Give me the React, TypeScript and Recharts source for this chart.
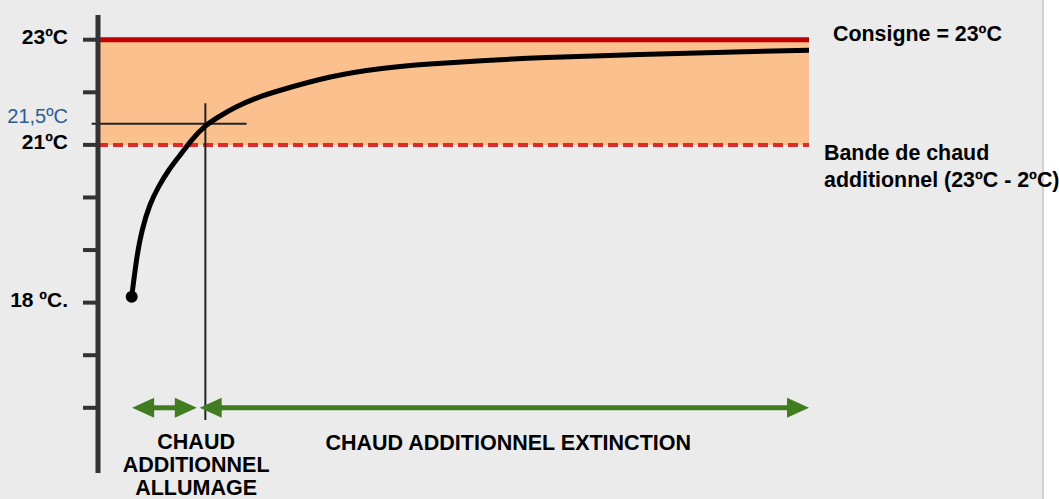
import { LineChart, Line, XAxis, YAxis, ReferenceArea, ReferenceLine, ReferenceDot } from 'recharts';

// position along the horizontal span (0-100) and temperature of the curve
const timeValues = [4.74, 5.44, 6.15, 7.31, 8.48, 9.89, 11.53, 13.18, 15.05, 16.92, 19.27, 22.55, 24.89, 32.63, 39.66, 46.69, 53.73, 62.17, 76.23, 90.3, 100];
const tempValues = [18.11, 18.87, 19.38, 19.89, 20.2, 20.52, 20.8, 21.1, 21.37, 21.53, 21.72, 21.91, 22.01, 22.31, 22.46, 22.54, 22.6, 22.66, 22.72, 22.77, 22.8];

const tickValues = [16, 17, 18, 19, 20, 21, 21.5, 22, 23];
const tickLabels: Record<string, string> = { '23': '23ºC', '21.5': '21,5ºC', '21': '21ºC', '18': '18 ºC.' };

const consigne = 23;
const bandeBasse = 21;
const croisementTemp = 21.4;
const croisementTemps = 15.1;
const arrowLevel = 16;
const allumage = [4.8, 13.9];
const extinction = [14.3, 100];

const consigneLabel = 'Consigne = 23ºC';
const bandeLabel = ['Bande de chaud', 'additionnel (23ºC - 2ºC)'];
const allumageLabel = ['CHAUD', 'ADDITIONNEL', 'ALLUMAGE'];
const extinctionLabel = ['CHAUD ADDITIONNEL EXTINCTION'];

const data = timeValues.map((t, i) => ({ t, temp: tempValues[i] }));

const FONT = '"Liberation Sans", Arial, sans-serif';
const GREEN = '#427c20';

function TempTick(props: any) {
  const { x, y, payload } = props;
  const label = tickLabels[String(payload.value)];
  const isBlue = payload.value === 21.5;
  return (
    <g>
      {!isBlue && <line x1={x - 15} x2={x} y1={y} y2={y} stroke="#333" strokeWidth={4} />}
      {label && (
        <text
          x={x - 30}
          y={y - 3}
          textAnchor="end"
          dominantBaseline="central"
          fontFamily={FONT}
          fontSize={isBlue ? 20 : 21}
          fontWeight={isBlue ? 400 : 700}
          fill={isBlue ? '#2e5a94' : '#000'}
        >
          {label}
        </text>
      )}
    </g>
  );
}

function arrowShape(leftHead: boolean, rightHead: boolean) {
  return (p: any) => {
    const { x1, x2, y1 } = p;
    const y = y1;
    const h = 22;
    const w = 10;
    const sx1 = leftHead ? x1 + h - 2 : x1;
    const sx2 = rightHead ? x2 - h + 2 : x2;
    const fid = `ombre-${Math.round(x1)}`;
    return (
      <g>
        <defs>
          <filter id={fid} x="-20%" y="-200%" width="140%" height="500%">
            <feGaussianBlur stdDeviation="3" />
          </filter>
        </defs>
        <line x1={x1 + 6} x2={x2} y1={y + 10} y2={y + 10} stroke="#d6c0ad" strokeWidth={12} strokeLinecap="round" filter={`url(#${fid})`} />
        <line x1={sx1} x2={sx2} y1={y} y2={y} stroke={GREEN} strokeWidth={5} />
        {leftHead && <polygon points={`${x1},${y} ${x1 + h},${y - w} ${x1 + h},${y + w}`} fill={GREEN} />}
        {rightHead && <polygon points={`${x2},${y} ${x2 - h},${y - w} ${x2 - h},${y + w}`} fill={GREEN} />}
      </g>
    );
  };
}

function multiLine(lines: string[], dx: number, dy: number, lineH: number, anchor: 'middle' | 'start', size: number) {
  return (props: any) => {
    const vb = props.viewBox || {};
    const cx = anchor === 'middle' ? vb.x + (vb.width || 0) / 2 : vb.x + (vb.width || 0);
    const cy = vb.y + (vb.height || 0) / 2;
    return (
      <g>
        {lines.map((l, i) => (
          <text
            key={i}
            x={cx + dx}
            y={cy + dy + i * lineH}
            textAnchor={anchor}
            dominantBaseline="central"
            fontFamily={FONT}
            fontSize={size}
            fontWeight={700}
            fill="#000"
          >
            {l}
          </text>
        ))}
      </g>
    );
  };
}

export default function App() {
  return (
    <div
      style={{
        position: 'absolute',
        left: 0,
        top: 0,
        width: 1059,
        height: 499,
        background: 'linear-gradient(to right, #ebebeb 1042px, #d2d2d2 1042px, #d2d2d2 1044px, #ffffff 1044px)',
      }}
    >
      <LineChart width={1059} height={499} data={data} margin={{ top: 15, right: 250, bottom: 26, left: 8 }}>
        <XAxis dataKey="t" type="number" domain={[0, 100]} hide allowDataOverflow />
        <YAxis
          type="number"
          domain={[14.76, 23.47]}
          allowDataOverflow
          width={90}
          ticks={tickValues}
          interval={0}
          tickSize={0}
          tickMargin={0}
          tickLine={false}
          axisLine={{ stroke: '#333', strokeWidth: 5 }}
          tick={<TempTick />}
        />
        <ReferenceArea x1={0} x2={100} y1={bandeBasse} y2={consigne} fill="#fac18f" fillOpacity={1} stroke="none" />
        <ReferenceLine
          y={consigne}
          stroke="#c00000"
          strokeWidth={5}
          label={multiLine([consigneLabel], 24, -6, 0, 'start', 21.4)}
        />
        <ReferenceLine
          y={bandeBasse}
          stroke="#dd2a2a"
          strokeWidth={4}
          strokeDasharray="10 5"
          label={multiLine(bandeLabel, 15, 8, 27, 'start', 21.4)}
        />
        <ReferenceLine
          segment={[{ x: -0.9, y: croisementTemp }, { x: 20.9, y: croisementTemp }]}
          stroke="#222"
          strokeWidth={2}
          ifOverflow="visible"
        />
        <ReferenceLine
          segment={[{ x: croisementTemps, y: 21.79 }, { x: croisementTemps, y: 15.77 }]}
          stroke="#222"
          strokeWidth={2}
        />
        <ReferenceLine
          segment={[{ x: allumage[0], y: arrowLevel }, { x: allumage[1], y: arrowLevel }]}
          shape={arrowShape(true, true)}
        />
        <ReferenceLine
          segment={[{ x: extinction[0], y: arrowLevel }, { x: extinction[1], y: arrowLevel }]}
          shape={arrowShape(true, true)}
        />
        <ReferenceDot x={13.8} y={arrowLevel} r={0} fill="none" stroke="none" label={multiLine(allumageLabel, 0, 34, 23, 'middle', 21.5)} />
        <ReferenceDot x={57.7} y={arrowLevel} r={0} fill="none" stroke="none" label={multiLine(extinctionLabel, 0, 35, 0, 'middle', 21.5)} />
        <Line
          type="basis"
          dataKey="temp"
          stroke="#000"
          strokeWidth={5}
          isAnimationActive={false}
          dot={(p: any) =>
            p.index === 0 ? <circle key="start" cx={p.cx} cy={p.cy} r={6} fill="#000" /> : <g key={`d${p.index}`} />
          }
          activeDot={false}
        />
      </LineChart>
    </div>
  );
}
